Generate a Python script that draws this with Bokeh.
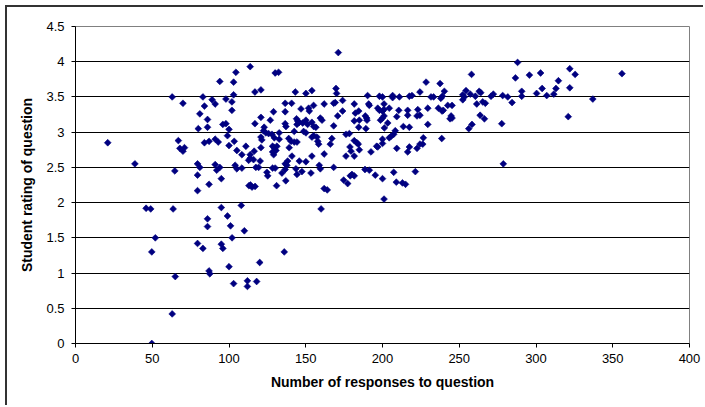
from bokeh.plotting import figure
from bokeh.models import FixedTicker, NumeralTickFormatter, ColumnDataSource, Range1d
from bokeh.embed import file_html
from bokeh.resources import INLINE
import math

# ---- data ----
responses = [
    21, 38.7, 63, 70, 67, 68, 71, 70, 64.7, 94, 83, 84, 89, 91, 98, 81, 86, 80, 86, 96, 98, 100, 99,
    84, 87, 91, 93, 100, 79.5, 81, 91, 94, 92, 79.5, 95, 87,
    46, 49, 63.6, 79.5, 95, 99, 86, 86, 101, 52, 49.7, 79.5, 83, 95, 96, 100, 87, 87.5, 65, 63, 49.7,
    113, 115, 117, 114, 131, 137, 162, 164, 201, 108, 160, 102, 110, 136, 120, 103, 112, 112, 118,
    209, 213, 215,
    303, 322, 325.5, 356, 314.6, 304, 313, 322, 300.4, 307, 311.6, 337, 321,
    288, 258, 286.6, 295.7, 228.4, 237.5, 240.3, 254.4, 224.4, 206.6, 206.6, 211, 217.5, 219.2,
    231.6, 233.3, 238, 239, 252.3, 252.3, 253.3, 257.2, 260.5, 263, 264, 270.7, 272.2, 278.3, 281.6,
    290.7, 290.7, 284.4, 261.4, 265.3, 267, 200, 201, 204.4, 210.6, 216.4, 216.4, 223, 222.5,
    224.4, 229.5, 236.4, 238.8, 239.6, 242.5, 245.3, 244.7, 245.3, 244, 229.5, 200, 201, 198.7,
    203.4, 209.3, 201.2, 213.6, 217.5, 208.3, 263.6, 266.4, 256.2, 258.3, 277.7, 278.7, 200, 200,
    204.4, 205.5, 207.3, 209.3, 216.4, 217.5, 222.5, 224.4, 226.2, 226.6, 238.6, 200, 207.3, 221.4,
    171.2, 113.8, 104.5, 130.1, 132.3, 103, 103, 116.9, 120.8, 143.2, 150.1, 154, 169.7, 170.1,
    169.2, 168.2, 174, 190.3, 198, 200, 101.9, 101.9, 136.6, 140.8, 136.6, 146.9, 151.9, 152.3,
    155.1, 162, 170.8, 174, 181.6, 182.3, 184.5, 191, 191.4, 196.9, 198, 201, 129, 116.9, 120.8,
    126.9, 122.9, 122.5, 124, 125.8, 128, 129.5, 132.7, 132.7, 136.6, 137.1, 144, 144.7, 145.8,
    144.3, 148, 150.1, 151.2, 154, 155.2, 156.6, 159.5, 160.6, 148.6, 150.1, 142.5, 155.2, 157.3,
    154, 157.8, 158.4, 168.2, 181.6, 184.9, 184.5, 188.8, 189.7, 189.9, 189.2, 176.2, 178.4, 167,
    166, 181.6, 183.3, 184.2, 178.8, 179.5, 184.9, 196.9, 196.2, 192.5, 162, 176.2, 181.6, 103.4,
    105.1, 108.4, 111, 113.8, 120.8, 121.4, 120.8, 116.4, 128.4, 129.5, 131.2, 128.4, 129.1, 130.6,
    139.2, 138.9, 140.4, 142.5, 144.3, 136.6, 138.2, 141, 145.8, 150.1, 154, 158.8, 159.5, 168.2,
    143.6, 144.3, 153.4, 147.5, 137.7, 136.6, 134.5, 128.4, 130.1, 124.7, 125.2, 120.3, 117.5,
    119.3, 113.8, 112.8, 116, 105.1, 108.4, 104, 174.7, 177.3, 180.1, 179, 181.6, 188.6, 191.4, 195.3,
]
ratings = [
    2.85, 2.55, 3.50, 3.41, 2.88, 2.77, 2.78, 2.73, 2.45, 3.72, 3.50, 3.37, 3.46, 3.40, 3.47, 3.26, 3.18, 3.05, 3.07, 3.11, 3.12, 3.04, 2.95,
    2.85, 2.87, 2.90, 2.86, 2.81, 2.55, 2.50, 2.54, 2.50, 2.46, 2.39, 2.34, 2.26,
    1.92, 1.91, 1.91, 2.17, 1.93, 1.81, 1.77, 1.66, 1.67, 1.50, 1.30, 1.42, 1.35, 1.41, 1.35, 1.09, 1.03, 0.99, 0.95, 0.42, 0.0,
    2.24, 2.22, 2.23, 2.25, 2.24, 2.31, 2.20, 2.18, 2.05, 1.96, 1.91, 1.50, 1.60, 1.30, 1.15, 0.85, 0.89, 0.81, 0.88,
    2.29, 2.28, 2.26,
    3.84, 3.90, 3.82, 3.83, 3.73, 3.62, 3.62, 3.63, 3.55, 3.52, 3.54, 3.47, 3.22,
    3.99, 3.82, 3.77, 3.81, 3.71, 3.69, 3.58, 3.59, 3.57, 3.52, 3.49, 3.50, 3.51, 3.52,
    3.50, 3.50, 3.48, 3.51, 3.53, 3.46, 3.50, 3.54, 3.51, 3.58, 3.56, 3.51, 3.54, 3.52, 3.50,
    3.58, 3.51, 3.42, 3.40, 3.43, 3.41, 3.30, 3.32, 3.34, 3.31, 3.31, 3.24, 3.32, 3.23,
    3.24, 3.34, 3.34, 3.30, 3.31, 3.38, 3.38, 3.23, 3.20, 3.19, 3.11, 3.20, 3.23, 3.17,
    3.13, 3.22, 3.06, 3.08, 3.07, 3.02, 3.24, 3.19, 3.05, 3.11, 3.12, 2.55, 2.90, 2.84,
    2.92, 2.94, 2.97, 2.77, 2.72, 2.79, 2.77, 2.83, 2.83, 2.92, 2.91, 2.34, 2.43, 2.44,
    4.13, 3.93, 3.85, 3.84, 3.85, 3.71, 3.53, 3.57, 3.60, 3.57, 3.55, 3.59, 3.62, 3.55,
    3.42, 3.41, 3.45, 3.52, 3.51, 3.50, 3.43, 3.31, 3.41, 3.41, 3.29, 3.33, 3.34, 3.30,
    3.38, 3.40, 3.23, 3.30, 3.40, 3.27, 3.30, 3.40, 3.38, 3.34, 3.31, 3.40, 3.29, 3.12, 3.21,
    3.17, 3.07, 3.02, 2.99, 2.98, 2.97, 2.92, 2.99, 2.90, 3.12, 3.08, 3.19, 3.16, 3.14,
    3.11, 3.13, 3.17, 3.11, 3.14, 3.08, 3.07, 3.20, 3.17, 3.01, 2.99, 3.01, 2.95, 2.93,
    2.93, 2.87, 2.83, 3.09, 3.16, 3.17, 3.07, 3.23, 3.20, 3.17, 3.05, 2.97, 2.98, 2.91,
    2.83, 2.88, 2.85, 2.83, 2.79, 2.73, 2.75, 2.79, 2.80, 2.72, 2.69, 2.66, 2.66, 2.87,
    2.74, 2.68, 2.80, 2.68, 2.93, 2.89, 2.78, 2.73, 2.80, 2.78, 2.80, 2.72, 2.68, 2.74,
    2.78, 2.91, 2.87, 2.86, 2.86, 2.55, 2.59, 2.66, 2.59, 2.58, 2.66, 2.53, 2.48, 2.50,
    2.48, 2.40, 2.42, 2.44, 2.53, 2.47, 2.42, 2.49, 2.49, 2.43, 2.38, 2.59, 2.50,
    2.50, 2.63, 2.60, 2.61, 2.48, 2.49, 2.53, 2.32, 2.27, 2.40, 2.38, 2.38, 2.47, 2.46, 2.39,
]
x_ticks = [0, 50, 100, 150, 200, 250, 300, 350, 400]
y_ticks = [0, 0.5, 1, 1.5, 2, 2.5, 3, 3.5, 4, 4.5]
x_title = "Number of responses to question"
y_title = "Student rating of question"

n = min(len(responses), len(ratings))
src = ColumnDataSource(dict(x=responses[:n], y=ratings[:n]))

FONT = "Liberation Sans"

p = figure(
    width=698, height=400,
    output_backend="svg", toolbar_location=None,
    x_range=Range1d(0, 400), y_range=Range1d(0, 4.5),
    min_border_left=68, min_border_right=16, min_border_top=19, min_border_bottom=64,
    background_fill_color="white", border_fill_color="white",
)
p.styles = {
    "margin-left": "5px", "margin-top": "5px",
    "border-left": "2px solid #333333", "border-top": "2px solid #333333",
}

p.scatter("x", "y", source=src, marker="square", angle=math.pi / 4, size=4.8,
          fill_color="#000080", line_color="#000080", line_width=0.6)

p.outline_line_color = "#808080"
p.outline_line_width = 1

p.xgrid.visible = False
p.ygrid.grid_line_color = "black"
p.ygrid.grid_line_width = 1

for ax in (p.xaxis, p.yaxis):
    ax.axis_line_color = "black"
    ax.major_tick_line_color = "black"
    ax.minor_tick_line_color = None
    ax.major_tick_out = 4
    ax.major_tick_in = 0
    ax.major_label_text_font = FONT
    ax.major_label_text_font_size = "13px"
    ax.major_label_text_color = "black"
    ax.axis_label_text_font = FONT
    ax.axis_label_text_font_size = "14px"
    ax.axis_label_text_font_style = "bold"
    ax.axis_label_text_color = "black"

p.xaxis.ticker = FixedTicker(ticks=x_ticks)
p.yaxis.ticker = FixedTicker(ticks=y_ticks)
p.xaxis.formatter = NumeralTickFormatter(format="0")
p.yaxis.formatter = NumeralTickFormatter(format="0.[0]")
p.xaxis.axis_label = x_title
p.yaxis.axis_label = y_title
p.xaxis.major_label_standoff = 6
p.yaxis.major_label_standoff = 7
p.xaxis.axis_label_standoff = 8
p.yaxis.axis_label_standoff = 8

open("out.html", "w").write(file_html(p, INLINE))
